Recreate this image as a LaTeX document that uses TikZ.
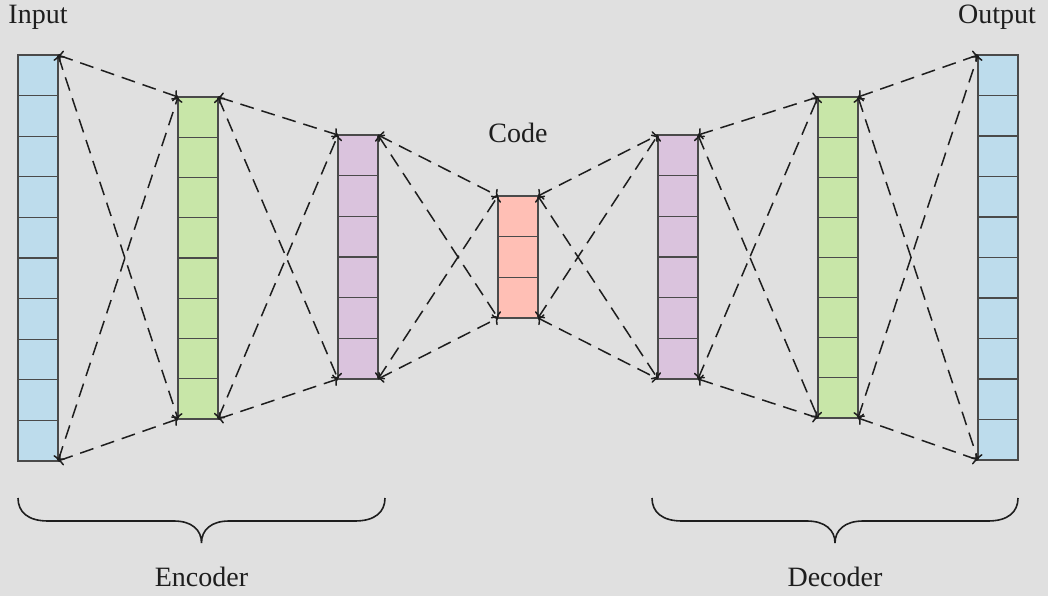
\documentclass[tikz,border=0pt]{standalone}
\usepackage{fontspec}
\setmainfont{Liberation Serif}
\usetikzlibrary{arrows.meta,calc}
\definecolor{bg}{HTML}{E0E0E0}
\definecolor{cblue}{HTML}{BDDCEC}
\definecolor{cgreen}{HTML}{C8E6A8}
\definecolor{cpurple}{HTML}{DAC3DD}
\definecolor{cred}{HTML}{FFBFB5}
\definecolor{edge}{HTML}{4A4A4A}
\definecolor{ink}{HTML}{1E1E1E}
\begin{document}
\begin{tikzpicture}[x=1pt,y=-1pt,
  col/.style={draw=edge, line width=1.2pt, minimum width=40pt, outer sep=0pt, inner sep=0pt, anchor=north west},
  cellline/.style={draw=edge, line width=1.2pt},
  link/.style={draw=ink, line width=1.5pt, dash pattern=on 14pt off 8pt, {To[length=4.5pt,width=12pt]}-{To[length=4.5pt,width=12pt]}},
  lbl/.style={font=\fontsize{28}{32}\selectfont, text=ink, inner sep=0pt, anchor=base},
  bracepath/.style={draw=ink, line width=1.6pt}]
\fill[bg] (0,0) rectangle (1048,596);
\useasboundingbox (0,0) rectangle (1048,596);

\node[col, fill=cblue,   minimum height=406pt] (in)   at (18,55)  {};
\node[col, fill=cgreen,  minimum height=322pt] (e1)   at (178,97) {};
\node[col, fill=cpurple, minimum height=244pt] (e2)   at (338,135) {};
\node[col, fill=cred,    minimum height=122pt] (code) at (498,196) {};
\node[col, fill=cpurple, minimum height=244pt] (d2)   at (658,135) {};
\node[col, fill=cgreen,  minimum height=321pt] (d1)   at (818,97) {};
\node[col, fill=cblue,   minimum height=405pt] (out)  at (978,55) {};

\foreach \c/\n in {in/10, e1/8, e2/6, code/3, d2/6, d1/8, out/10}{
  \pgfmathtruncatemacro{\m}{\n-1}
  \foreach \i in {1,...,\m}{
    \draw[cellline] ($(\c.north west)!\i/\n!(\c.south west)$) -- ($(\c.north east)!\i/\n!(\c.south east)$);
  }
}

\foreach \a/\b in {in/e1, e1/e2, e2/code, code/d2, d2/d1, d1/out}{
  \draw[link] (\a.north east) -- (\b.north west);
  \draw[link] (\a.south east) -- (\b.south west);
  \draw[link] (\a.north east) -- (\b.south west);
  \draw[link] (\a.south east) -- (\b.north west);
}

\node[lbl] (tin)   at (38,24)   {Input};
\node[lbl] (tout)  at (997,24)  {Output};
\node[lbl] (tcode) at (518,143) {Code};
\node[lbl] (tenc)  at (201.5,586) {Encoder};
\node[lbl] (tdec)  at (835,586) {Decoder};

\coordinate (bencL) at (18,498);
\coordinate (bencR) at (385,498);
\coordinate (bdecL) at (652,498);
\coordinate (bdecR) at (1018,498);

\draw[bracepath] (bencL) .. controls (18,512) and (28,521) .. (48,521) -- (174,521)
  .. controls (192,521) and (201.5,530) .. (201.5,543)
  .. controls (201.5,530) and (211,521) .. (229,521) -- (355,521)
  .. controls (375,521) and (385,512) .. (bencR);
\draw[bracepath] (bdecL) .. controls (652,512) and (662,521) .. (682,521) -- (807,521)
  .. controls (825,521) and (835,530) .. (835,543)
  .. controls (835,530) and (845,521) .. (863,521) -- (988,521)
  .. controls (1008,521) and (1018,512) .. (bdecR);
\end{tikzpicture}
\end{document}
